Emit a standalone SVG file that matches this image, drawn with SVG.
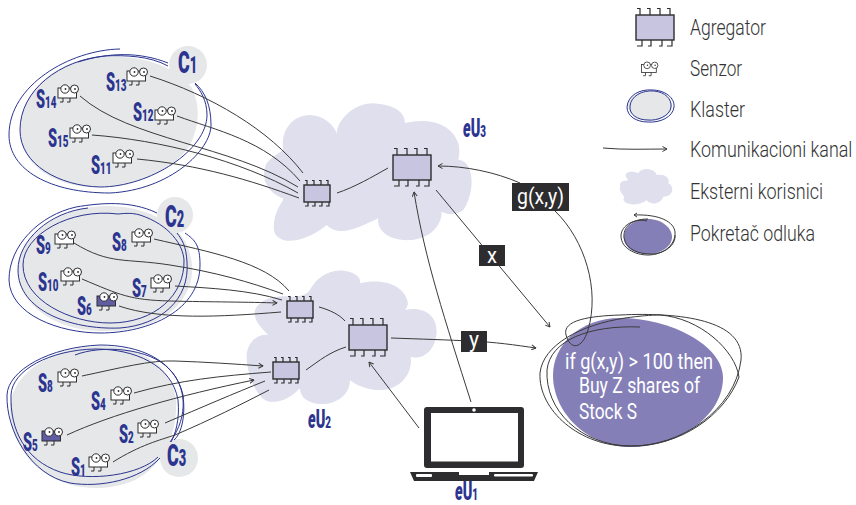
<svg xmlns="http://www.w3.org/2000/svg" width="856" height="505" viewBox="0 0 856 505">
<style>
text{font-family:Roboto,"Liberation Sans",sans-serif}
.ring{fill:none;stroke:#2b3590;stroke-width:1}
.blob{fill:#e6e7e8}
.cloud{fill:#dfdfed}
.con{fill:none;stroke:#3a3a3a;stroke-width:1}
.arr{marker-end:url(#ah)}
.sl{font-weight:900;fill:#2b3590;font-size:17px}
.sl .b{font-size:25px}
.sl .e{font-size:25px;font-style:italic}
.sl .c{font-size:32px}
.sl .d{font-size:23px}
.leg{font-size:22px;font-weight:300;fill:#333}
.wt{font-size:22px;fill:#fff}
.box{fill:#2d2c2e}
.chip{fill:#c7c5e0;stroke:#2d2c2e;stroke-width:1.4}
.leg-pin{fill:none;stroke:#2d2c2e;stroke-width:1.2}
</style>
<defs>
<marker id="ah" viewBox="0 0 6 6" refX="5.5" refY="3" markerWidth="6" markerHeight="6" markerUnits="userSpaceOnUse" orient="auto"><path d="M1,.5L5.5,3L1,5.5" fill="none" stroke="#3a3a3a" stroke-width="1"/></marker>
<g id="sensor"><rect x="0" y="0" width="18.500" height="10" fill="#fff" stroke="#2d2c2e" stroke-width="1"/><path d="M5,10V14H2M12,10V14H9" fill="none" stroke="#2d2c2e" stroke-width="1"/><circle cx="7" cy="1" r="4.200" fill="#fff" stroke="#2d2c2e"/><circle cx="16.500" cy="1" r="4" fill="#fff" stroke="#2d2c2e"/><circle cx="7.500" cy="1" r=".9" fill="#2d2c2e"/><circle cx="17" cy="1" r=".9" fill="#2d2c2e"/></g>
<g id="sensorF"><rect x="0" y="0" width="18.500" height="10" fill="#615da3" stroke="#2d2c2e" stroke-width="1"/><path d="M5,10V14H2M12,10V14H9" fill="none" stroke="#2d2c2e" stroke-width="1"/><circle cx="7" cy="1" r="4.200" fill="#fff" stroke="#2d2c2e"/><circle cx="16.500" cy="1" r="4" fill="#fff" stroke="#2d2c2e"/><circle cx="7.500" cy="1" r=".9" fill="#2d2c2e"/><circle cx="17" cy="1" r=".9" fill="#2d2c2e"/></g>
<g id="chip"><path class="leg-pin" d="M1,-6.500H4V0M11,-6.500H14V0M21,-6.500H24V0M31,-6.500H34V0M1,31H6V25M12,31H15V25M23,31H26V25M31,31H36V25"/><rect class="chip" x="0" y="0" width="38" height="25"/></g>
<g id="chipS"><path class="leg-pin" d="M1,-4.500H3V0M8,-4.500H10V0M15,-4.500H17V0M22,-4.500H24V0M1,21H4V17M8,21H11V17M15,21H18V17M22,21H25V17"/><rect class="chip" x="0" y="0" width="26" height="17"/></g>
</defs>

<g id="cloud-eU3"><path class="cloud" transform="translate(250,100) scale(.3333)" d="M72,370C75,330 100,305 100,295C50,280 30,230 50,190C70,165 95,155 100,150C90,90 130,45 180,45C215,45 250,70 260,100C265,50 320,10 370,10C440,15 465,40 465,70C520,55 600,60 625,130C630,150 628,165 625,180C670,180 680,270 640,330C620,345 595,345 575,335C575,390 520,425 460,420C400,415 380,380 385,355C330,380 270,415 230,375C190,410 130,430 100,420C70,410 70,390 72,370Z"/></g>
<g id="cloud-eU2"><path class="cloud" transform="translate(240,260) scale(.3333)" d="M45,150C60,115 110,105 150,110C170,110 195,110 210,90C240,35 290,30 310,32C340,35 365,50 360,70C420,55 490,70 503,125C505,135 500,145 495,150C530,140 590,150 590,215C585,290 530,298 512,290C520,340 480,390 420,390C370,390 335,365 330,360C330,410 280,435 240,432C200,430 180,410 180,385C160,405 130,430 90,425C50,420 20,340 20,290C20,250 50,220 85,225C60,200 40,180 45,150Z"/></g>

<g id="cluster-C1">
<path class="blob" d="M20,130C20,90 60,57 105,57C140,55 175,65 192,88C200,105 200,125 190,145C170,175 130,187 95,187C55,187 20,165 20,130Z"/>
<circle class="blob" cx="188" cy="65" r="19"/>
<path class="ring" d="M120,49C70,50 9,85 9,135C9,170 50,193 110,193C170,190 211,150 211,125C211,105 205,92 195,83"/>
<path class="ring" d="M168,66C150,56 125,55 105,56C60,60 20,90 20,130C20,165 60,186 100,187C150,187 207,150 207,115C207,100 200,90 195,84"/>
<path class="ring" d="M78,62C110,52 140,52 168,63"/>
<text class="sl" transform="translate(178,73) scale(.56,1)"><tspan class="c">C</tspan><tspan class="d">1</tspan></text>
</g>
<g id="cluster-C2">
<path class="blob" d="M18,270C18,235 60,207 105,206C140,205 175,220 187,245C195,265 195,285 178,305C160,325 130,332 100,331C55,330 18,305 18,270Z"/>
<circle class="blob" cx="175" cy="215" r="18"/>
<path class="ring" d="M157,213C130,200 100,203 76,207C40,215 9,245 9,280C10,315 60,333 100,333C150,333 200,310 200,265C200,245 195,240 185,233"/>
<path class="ring" d="M88,208C50,212 18,240 18,270C18,310 70,330 120,328C160,325 190,300 187,262C186,245 182,240 177,233"/>
<path class="ring" d="M118,214C70,208 23,235 23,265C23,300 70,323 110,323C155,323 185,295 184,260C183,245 170,225 140,215C130,212 120,214 118,214"/>
<text class="sl" transform="translate(165,227) scale(.56,1)"><tspan class="c">C</tspan><tspan class="d">2</tspan></text>
</g>
<g id="cluster-C3">
<path class="blob" d="M10,410C10,375 50,347 100,346C140,346 172,365 176,400C178,430 165,465 135,480C105,493 70,490 45,473C25,460 10,435 10,410Z"/>
<circle class="blob" cx="179" cy="458" r="19"/>
<path class="ring" d="M75,355C100,345 150,347 170,370C185,385 190,415 170,442"/>
<path class="ring" d="M160,458C140,480 100,488 70,483C30,475 6,430 7,395C8,370 50,347 100,345C140,345 175,360 183,395C186,420 180,435 174,440"/>
<path class="ring" d="M158,457C140,475 90,482 60,472C25,460 10,430 11,395C12,370 50,350 95,349C135,349 172,365 178,400C180,420 175,435 171,442"/>
<text class="sl" transform="translate(167,466) scale(.56,1)"><tspan class="c">C</tspan><tspan class="d">3</tspan></text>
</g>

<g id="decision">
<path d="M553,375C553,345 580,318 620,318C670,318 723,345 723,378C723,415 680,447 630,447C590,447 553,415 553,375Z" fill="#857fb8"/>
</g>

<g id="connectors">
<path class="con" d="M150,76C210,95 270,130 303,173"/>
<path class="con" d="M177,116C215,130 265,140 300,181"/>
<path class="con" d="M80,96C130,140 230,145 298,187"/>
<path class="con" d="M92,135C160,140 240,160 298,193"/>
<path class="con" d="M137,159C200,165 250,180 299,198"/>
<path class="con" d="M337,193C355,187 372,177 388,168"/>
<path class="con" d="M154,239C210,252 265,262 289,291"/>
<path class="con" d="M74,243C110,265 125,258 170,265C215,272 250,282 283,294"/>
<path class="con" d="M175,286C210,288 250,290 282,300"/>
<path class="con arr" d="M82,279C120,295 130,300 170,301C210,302 250,302 277,303"/>
<path class="con" d="M119,306C160,320 220,317 281,312"/>
<path class="con" d="M319,307C330,310 340,315 345,321"/>
<path class="con" d="M306,370C320,360 330,352 346,347"/>
<path class="con arr" d="M82,376C120,368 150,360 175,361C205,362 235,364 263,366"/>
<path class="con" d="M134,393C180,380 220,376 271,372"/>
<path class="con arr" d="M67,435C110,415 180,395 254,380"/>
<path class="con" d="M165,423C200,408 235,393 265,381"/>
<path class="con" d="M113,462C140,445 160,440 175,435C210,420 240,405 269,390"/>
<path class="con arr" d="M436,190L550,327"/>
<path class="con arr" d="M520,183C495,172 465,166 438,166"/>
<path class="con" d="M555,211C585,240 600,290 588,330C582,350 570,350 566,335C562,320 590,316 620,315C680,312 745,320 741,360C735,410 680,447 630,446C580,445 545,410 547,370C550,340 590,325 640,327"/>
<path class="con" d="M660,315C700,318 735,350 739,377C725,415 680,447 630,446C580,447 538,410 540,373C543,345 580,325 625,318C640,316 650,315 660,315Z"/>
<path class="con arr" d="M471,402C445,320 425,260 414,192"/>
<path class="con arr" d="M419,428L369,362"/>
<path class="con arr" d="M391,338C420,339 450,340 470,341C495,342 515,345 536,348"/>
</g>

<g id="decision-text">
<text class="wt" x="565" y="369" textLength="148" lengthAdjust="spacingAndGlyphs">if g(x,y) &gt; 100 then</text>
<text class="wt" x="579" y="393" textLength="121" lengthAdjust="spacingAndGlyphs">Buy Z shares of</text>
<text class="wt" x="579" y="419" textLength="58" lengthAdjust="spacingAndGlyphs">Stock S</text>
</g>

<g id="agg-eU3-small"><use href="#chipS" x="304" y="185"/></g>
<g id="agg-eU3"><use href="#chip" x="393" y="155"/></g>
<g id="agg-eU2-a"><use href="#chipS" x="287" y="301"/></g>
<g id="agg-eU2-b"><use href="#chipS" x="273" y="362"/></g>
<g id="agg-eU2"><use href="#chip" x="349" y="325"/></g>

<g id="label-x"><rect class="box" x="479" y="245" width="26" height="21"/><text class="wt" x="487" y="263" textLength="10" lengthAdjust="spacingAndGlyphs">x</text></g>
<g id="label-gxy"><rect class="box" x="512" y="183" width="57" height="28"/><text class="wt" x="517" y="204" textLength="47" lengthAdjust="spacingAndGlyphs">g(x,y)</text></g>
<g id="label-y"><rect class="box" x="461" y="331" width="26" height="21"/><text class="wt" x="469" y="347" textLength="10" lengthAdjust="spacingAndGlyphs">y</text></g>

<g id="s13"><use href="#sensor" x="127" y="71"/><text class="sl" transform="translate(106,91) scale(.58,1)"><tspan class="b">S</tspan><tspan>13</tspan></text></g>
<g id="s14"><use href="#sensor" x="58" y="88"/><text class="sl" transform="translate(36,108) scale(.58,1)"><tspan class="b">S</tspan><tspan>14</tspan></text></g>
<g id="s12"><use href="#sensor" x="155" y="110"/><text class="sl" transform="translate(133,121) scale(.58,1)"><tspan class="b">S</tspan><tspan>12</tspan></text></g>
<g id="s15"><use href="#sensor" x="70" y="128"/><text class="sl" transform="translate(48,147) scale(.58,1)"><tspan class="b">S</tspan><tspan>15</tspan></text></g>
<g id="s11"><use href="#sensor" x="113" y="153"/><text class="sl" transform="translate(91,174) scale(.58,1)"><tspan class="b">S</tspan><tspan>11</tspan></text></g>
<g id="s9"><use href="#sensor" x="55" y="234"/><text class="sl" transform="translate(36,254) scale(.58,1)"><tspan class="b">S</tspan><tspan>9</tspan></text></g>
<g id="s8a"><use href="#sensor" x="132" y="232"/><text class="sl" transform="translate(112,251) scale(.58,1)"><tspan class="b">S</tspan><tspan>8</tspan></text></g>
<g id="s10"><use href="#sensor" x="61" y="271"/><text class="sl" transform="translate(38,291) scale(.58,1)"><tspan class="b">S</tspan><tspan>10</tspan></text></g>
<g id="s7"><use href="#sensor" x="151" y="278"/><text class="sl" transform="translate(132,297) scale(.58,1)"><tspan class="b">S</tspan><tspan>7</tspan></text></g>
<g id="s6"><use href="#sensorF" x="97" y="296"/><text class="sl" transform="translate(77,315) scale(.58,1)"><tspan class="b">S</tspan><tspan>6</tspan></text></g>
<g id="s8b"><use href="#sensor" x="58" y="372"/><text class="sl" transform="translate(38,392) scale(.58,1)"><tspan class="b">S</tspan><tspan>8</tspan></text></g>
<g id="s4"><use href="#sensor" x="111" y="390"/><text class="sl" transform="translate(91,410) scale(.58,1)"><tspan class="b">S</tspan><tspan>4</tspan></text></g>
<g id="s5"><use href="#sensorF" x="42" y="431"/><text class="sl" transform="translate(23,451) scale(.58,1)"><tspan class="b">S</tspan><tspan>5</tspan></text></g>
<g id="s2"><use href="#sensor" x="138" y="423"/><text class="sl" transform="translate(119,443) scale(.58,1)"><tspan class="b">S</tspan><tspan>2</tspan></text></g>
<g id="s1"><use href="#sensor" x="89" y="457"/><text class="sl" transform="translate(71,476) scale(.58,1)"><tspan class="b">S</tspan><tspan>1</tspan></text></g>

<g id="eU1">
<rect x="424" y="407" width="100" height="61" rx="3" class="box"/>
<rect x="431" y="413" width="87" height="48.500" fill="#fff"/>
<circle cx="474" cy="410" r="1.800" fill="#fff"/>
<path class="box" d="M410,472H459V475H489V472H538L534,481H414Z"/>
<rect x="416" y="474" width="16" height="3" rx="1" fill="#fff"/>
<rect x="494" y="474" width="39" height="2.500" rx="1" fill="#fff"/>
<text class="sl" transform="translate(455,500) scale(.58,1)"><tspan class="e">e</tspan><tspan class="b">U</tspan><tspan>1</tspan></text>
</g>
<g id="label-eU2"><text class="sl" transform="translate(308,428) scale(.58,1)"><tspan class="e">e</tspan><tspan class="b">U</tspan><tspan>2</tspan></text></g>
<g id="label-eU3"><text class="sl" transform="translate(463,137) scale(.58,1)"><tspan class="e">e</tspan><tspan class="b">U</tspan><tspan>3</tspan></text></g>

<g id="legend">
<use href="#chip" x="636" y="15"/>
<text class="leg" x="690" y="35" textLength="76" lengthAdjust="spacingAndGlyphs">Agregator</text>
<use href="#sensor" transform="translate(641.500,64.500) scale(.8)"/>
<text class="leg" x="690" y="76" textLength="52" lengthAdjust="spacingAndGlyphs">Senzor</text>
<ellipse cx="650" cy="106" rx="22" ry="15" class="blob"/>
<path class="ring" d="M627,107C628,95 640,89 652,90C665,90 675,98 674,107C673,117 660,123 648,122C636,122 627,116 627,107Z"/>
<path class="ring" d="M630,106C631,96 642,90 654,91C665,92 672,99 671,107C670,116 657,121 648,120C638,120 629,115 630,106Z"/>
<text class="leg" x="690" y="117" textLength="55" lengthAdjust="spacingAndGlyphs">Klaster</text>
<path class="con arr" d="M603,148C625,150 645,149 667,149"/>
<text class="leg" transform="translate(690,157) scale(.82,1)" textLength="198" lengthAdjust="spacingAndGlyphs">Komunikacioni kanal</text>
<path class="cloud" transform="translate(600,0) scale(.3333)" d="M60,560C60,540 70,545 85,540C60,515 100,510 115,520C125,500 165,505 170,525C205,520 210,545 205,550C225,560 220,590 190,590C180,615 150,615 140,600C125,615 80,620 70,600C80,585 55,580 60,560Z"/>
<text class="leg" x="690" y="199" textLength="133" lengthAdjust="spacingAndGlyphs">Eksterni korisnici</text>
<path d="M624,237C624,226 635,219 648,219C662,219 672,228 672,237C672,247 660,254 648,254C634,254 624,248 624,237Z" fill="#857fb8"/>
<path class="con" d="M647,221C635,218 621,225 621,236C621,248 635,255 648,255C663,255 676,245 675,232C674,222 660,214 634,215"/>
<path class="con" d="M648,219C630,219 623,228 624,238C626,250 640,254 650,254C665,254 676,245 675,235"/>
<path d="M637,213L634,215L637,217" fill="none" stroke="#3a3a3a"/>
<text class="leg" x="690" y="241" textLength="125" lengthAdjust="spacingAndGlyphs">Pokretač odluka</text>
</g>
</svg>
